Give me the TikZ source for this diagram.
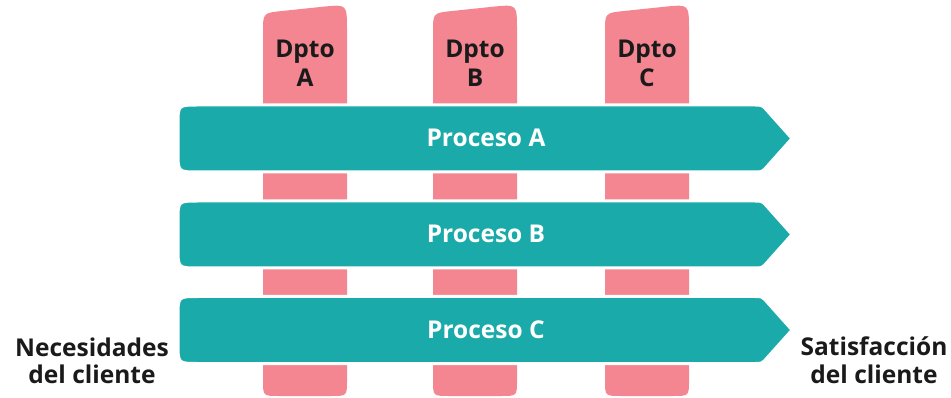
\documentclass[tikz,border=0pt]{standalone}
\usepackage{fontspec}
\setmainfont{Open Sans}
\definecolor{procteal}{RGB}{26,170,170}
\definecolor{deptpink}{RGB}{243,134,145}
\definecolor{inkdark}{RGB}{26,26,26}
\tikzset{
  colfill/.style={fill=deptpink},
  procfill/.style={fill=procteal, draw=white, line width=3pt},
  lbl/.style={font=\fontsize{24.5}{29}\selectfont\bfseries, text=inkdark, inner sep=0pt, anchor=base},
  proclbl/.style={lbl, text=white},
  % department column, origin at its lower left corner (y grows downwards)
  deptcol/.pic={
    \path[colfill] (0,-16) -- (0,-364) .. controls (0,-383) .. (19,-385)
      -- (62,-389.5) .. controls (84,-391.5) .. (84,-366) -- (84,-16)
      .. controls (84,0) .. (68,0) -- (16,0) .. controls (0,0) .. (0,-16) -- cycle;
  },
  % process arrow, origin at its upper left corner (y grows downwards)
  procarrow/.pic={
    \path[procfill] (20,0) -- (577,0) .. controls (584,0) .. (589,5.5)
      -- (614,33.5) -- (589,61.5) .. controls (584,67) .. (577,67)
      -- (20,67) .. controls (0,67) .. (0,47) -- (0,20)
      .. controls (0,0) .. (20,0) -- cycle;
  }
}
\begin{document}
\begin{tikzpicture}[x=1pt,y=-1pt]
  \useasboundingbox (0,0) rectangle (951,398);

  % departments
  \pic at (263,396) {deptcol};
  \pic at (433,396) {deptcol};
  \pic at (605,396) {deptcol};
  \node[lbl] (dA1) at (305,58) {Dpto};
  \node[lbl] (dA2) at (305,87) {A};
  \node[lbl] (dB1) at (475,58) {Dpto};
  \node[lbl] (dB2) at (475,87) {B};
  \node[lbl] (dC1) at (647,58) {Dpto};
  \node[lbl] (dC2) at (647,87) {C};

  % processes crossing the departments
  \pic at (178,105) {procarrow};
  \pic at (178,201) {procarrow};
  \pic at (178,296.5) {procarrow};
  \node[proclbl] (pA) at (486,147) {Proceso A};
  \node[proclbl] (pB) at (486,243) {Proceso B};
  \node[proclbl] (pC) at (486,338.5) {Proceso C};

  % ends of the chain
  \node[lbl] (nec1) at (92,356) {Necesidades};
  \node[lbl] (nec2) at (92,383) {del cliente};
  \node[lbl] (sat1) at (874,355) {Satisfacción};
  \node[lbl] (sat2) at (874,383) {del cliente};
\end{tikzpicture}
\end{document}
